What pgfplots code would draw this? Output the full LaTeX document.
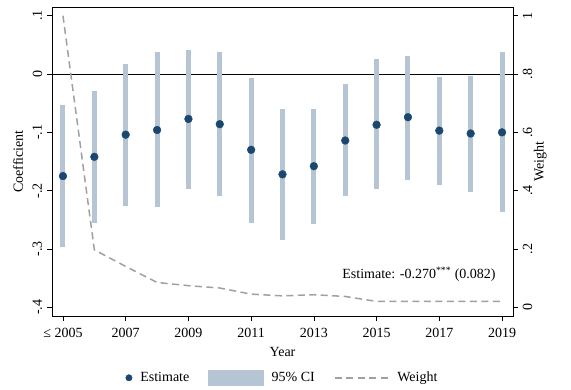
\documentclass[border=0pt]{standalone}
\usepackage{fontspec}
\setmainfont{Liberation Serif}
\usepackage{pgfplots}
\pgfplotsset{compat=1.18}
\usepackage{pgfplotstable}

\definecolor{estcol}{RGB}{26,71,111}
\definecolor{cicol}{RGB}{182,197,211}
\definecolor{wcol}{RGB}{160,160,160}

% year, point estimate, 95% CI bounds, weight
\pgfplotstableread{
year est lo hi w
2005 -0.175 -0.296 -0.053 1.000
2006 -0.142 -0.255 -0.029 0.197
2007 -0.104 -0.226 0.017 0.140
2008 -0.096 -0.228 0.037 0.085
2009 -0.077 -0.197 0.041 0.074
2010 -0.086 -0.209 0.037 0.066
2011 -0.130 -0.255 -0.007 0.045
2012 -0.172 -0.284 -0.060 0.039
2013 -0.158 -0.257 -0.060 0.043
2014 -0.114 -0.210 -0.017 0.037
2015 -0.087 -0.198 0.026 0.020
2016 -0.074 -0.181 0.031 0.020
2017 -0.097 -0.190 -0.005 0.020
2018 -0.102 -0.202 -0.003 0.020
2019 -0.100 -0.236 0.038 0.020
}\coef

\pgfplotsset{
  common/.style={
    at={(0pt,0pt)}, anchor=south west,
    scale only axis, width=461pt, height=309pt,
    xmin=2004.65, xmax=2019.35,
    tick align=outside, major tick length=5pt,
    every tick/.style={black, line width=0.6pt},
    axis line style={line width=0.9pt},
    tick label style={font=\fontsize{14}{16}\selectfont},
    label style={font=\fontsize{14}{16}\selectfont},
  },
}

\begin{document}
\fontsize{14}{16}\selectfont
\begin{tikzpicture}
\path[use as bounding box] (-52pt,-74pt) rectangle (519pt,316pt);

\begin{axis}[
  common,
  ymin=-0.415, ymax=0.115,
  xtick pos=bottom, ytick pos=left,
  xtick={2005,2007,2009,2011,2013,2015,2017,2019},
  xticklabels={{≤ 2005},2007,2009,2011,2013,2015,2017,2019},
  xticklabel shift=2pt,
  ytick={-0.4,-0.3,-0.2,-0.1,0,0.1},
  yticklabels={-.4,-.3,-.2,-.1,0,.1},
  yticklabel style={rotate=90, anchor=south},
  xlabel={Year}, ylabel={Coefficient},
  legend style={at={(0.5,-0.2)}, anchor=center, draw=none, fill=none,
    font=\fontsize{14}{16}\selectfont,
    /tikz/every odd column/.append style={column sep=6pt},
    /tikz/every even column/.append style={column sep=17pt}},
  legend columns=3,
]
\addlegendimage{legend image code/.code={\fill[estcol] (0pt,0pt) circle (3.2pt);}}
\addlegendentry{Estimate}
\addlegendimage{legend image code/.code={\fill[cicol] (0pt,-7.5pt) rectangle (55pt,7.5pt);}}
\addlegendentry{95\% CI}
\addlegendimage{legend image code/.code={\draw[wcol, line width=1.5pt, dash pattern=on 7pt off 4.5pt] (0pt,0pt) -- (54pt,0pt);}}
\addlegendentry{Weight}

% reference line at zero
\draw[black, line width=0.8pt] (axis cs:2004.65,0) -- (axis cs:2019.35,0);

% confidence intervals
\addplot[draw=none, mark=none, forget plot,
  error bars/.cd, y dir=both, y explicit, error mark=none,
  error bar style={cicol, line width=5pt}]
  table[x=year, y=est,
    y error plus expr=\thisrow{hi}-\thisrow{est},
    y error minus expr=\thisrow{est}-\thisrow{lo}] {\coef};

% point estimates
\addplot[only marks, mark=*, mark size=3.9pt, forget plot,
  mark options={fill=estcol, draw=estcol}]
  table[x=year, y=est] {\coef};

\node[anchor=east] at (axis cs:2018.95,-0.343)
  {Estimate: -0.270\textsuperscript{***} (0.082)};
\end{axis}

\begin{axis}[
  common,
  ymin=-0.03, ymax=1.03,
  hide x axis,
  axis y line*=right,
  ytick={0,0.2,0.4,0.6,0.8,1},
  yticklabels={0,.2,.4,.6,.8,1},
  yticklabel style={rotate=90, anchor=north},
  ylabel={Weight},
  ylabel shift=-8pt,
]
\addplot[wcol, line width=1.5pt, dash pattern=on 7pt off 4.5pt]
  table[x=year, y=w] {\coef};
\end{axis}
\end{tikzpicture}
\end{document}
